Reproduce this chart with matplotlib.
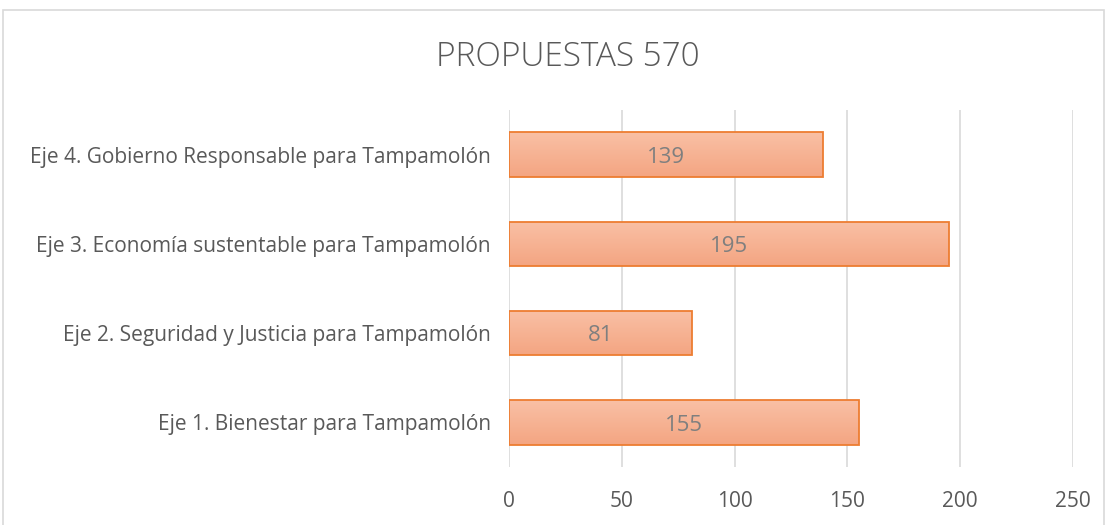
import numpy as np
import matplotlib.pyplot as plt
from matplotlib.patches import Rectangle
from matplotlib.colors import LinearSegmentedColormap

categories = [
    "Eje 1. Bienestar para Tampamolón",
    "Eje 2. Seguridad y Justicia para Tampamolón",
    "Eje 3. Economía sustentable para Tampamolón",
    "Eje 4. Gobierno Responsable para Tampamolón",
]
values = [155, 81, 195, 139]
xticks = [0, 50, 100, 150, 200, 250]
title = "PROPUESTAS 570"

plt.rcParams["font.family"] = ["Open Sans", "DejaVu Sans"]

fig = plt.figure(figsize=(11.07, 5.25), dpi=100)
ax = fig.add_axes([509 / 1107, 1 - 467 / 525, 564 / 1107, 357 / 525])

# chart border
fig.patches.append(Rectangle((3 / 1107, -0.01), 1101 / 1107, 1 - 10 / 525 + 0.01,
                             transform=fig.transFigure, fill=False,
                             edgecolor="#d9d9d9", linewidth=1.2))

y = np.arange(len(categories))
bars = ax.barh(y, values, height=0.5, color="none", edgecolor="#ed7d31",
               linewidth=1.3, zorder=3)

# vertical gradient fill for each bar
grad = np.linspace(0, 1, 64).reshape(-1, 1)
cmap = LinearSegmentedColormap.from_list("g", ["#f9c0a5", "#f4a582"])
for b in bars:
    x0, y0 = b.get_x(), b.get_y()
    w, h = b.get_width(), b.get_height()
    im = ax.imshow(grad, cmap=cmap, aspect="auto",
                   extent=[x0, x0 + w, y0, y0 + h], origin="upper", zorder=2)
    im.set_clip_path(b)
    ax.text(x0 + w / 2, y0 + h / 2 - 0.03, str(int(w)), ha="center", va="center",
            fontsize=16, color="#7f7f7f", zorder=4)

ax.set_xlim(0, 250)
ax.set_ylim(-0.5, len(categories) - 0.5)
ax.set_xticks(xticks)
ax.set_yticks(y)
ax.set_yticklabels(categories)
ax.tick_params(axis="both", length=0, labelsize=15, colors="#595959")
ax.tick_params(axis="x", pad=17)
ax.tick_params(axis="y", pad=13)
ax.grid(axis="x", color="#d9d9d9", linewidth=1.2, zorder=0)
for s in ax.spines.values():
    s.set_visible(False)

fig.text(568 / 1107, 1 - 57 / 525, title, ha="center", va="center",
         fontsize=24, color="#595959", fontweight="light")

fig.savefig("out.png", dpi=100)
